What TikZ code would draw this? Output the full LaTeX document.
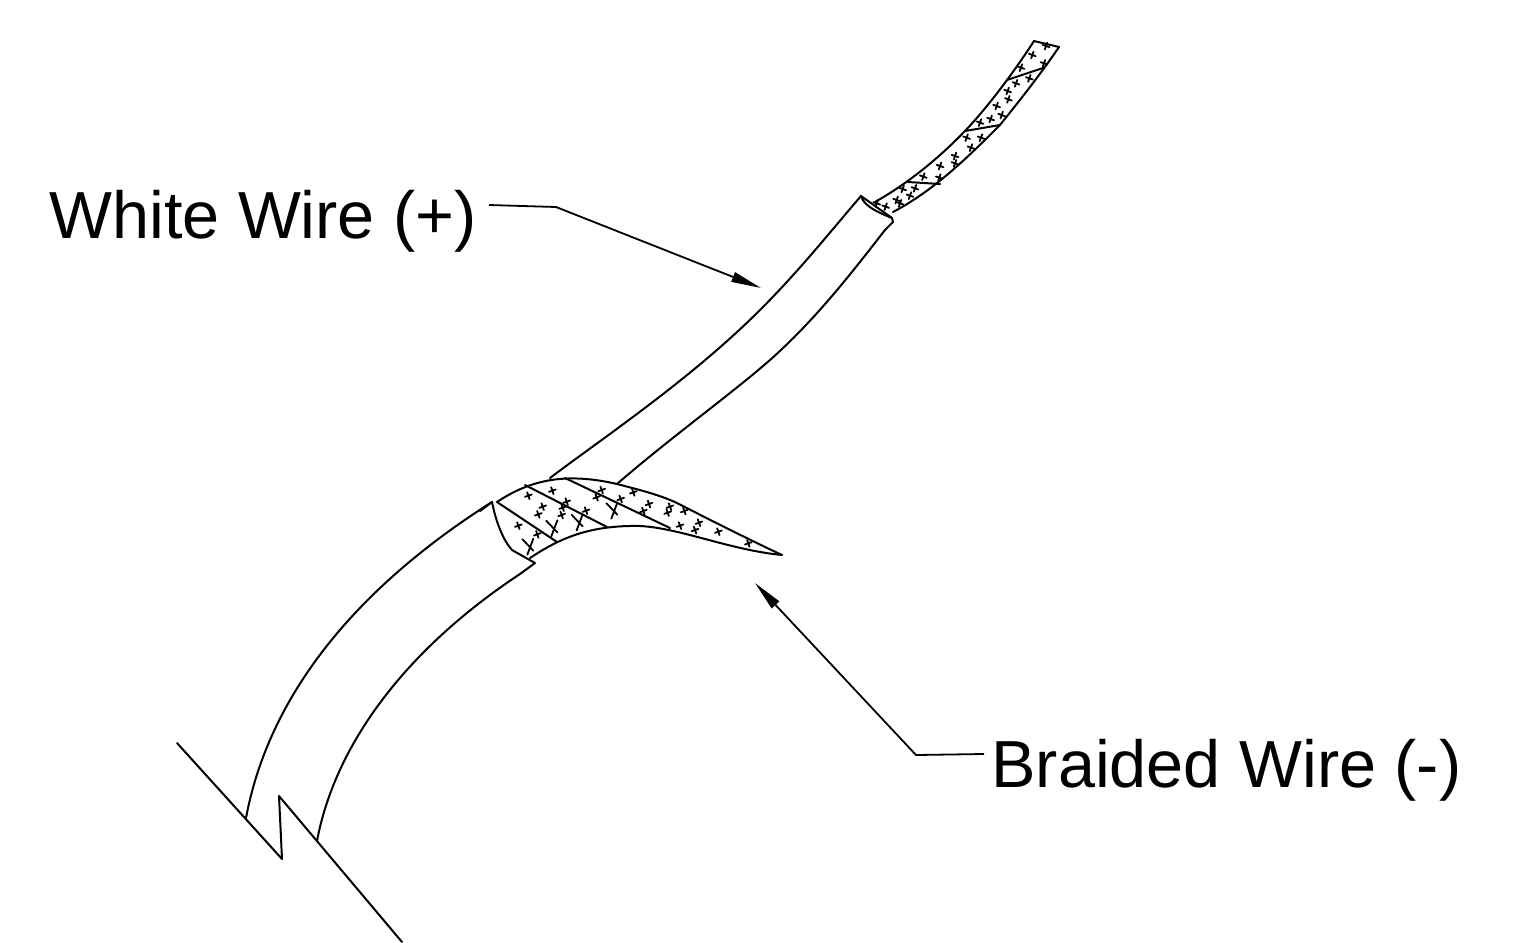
\documentclass[tikz,border=0pt]{standalone}
\usepackage{fontspec}
\setmainfont{Liberation Sans}
\usetikzlibrary{arrows.meta}
\tikzset{
  wireline/.style={line width=1pt,line join=round,line cap=round},
  hatch/.style={line width=0.9pt,line cap=round},
  leader/.style={line width=0.9pt},
  tip/.style={-{Triangle[length=15pt,width=5pt]}},
  lab/.style={font=\fontsize{33.3pt}{37pt}\selectfont,inner sep=0pt,anchor=base west}
}
\begin{document}
\begin{tikzpicture}[x=0.5pt,y=-0.5pt]
\useasboundingbox (0,0) rectangle (1533,943);
% zig-zag break line
\draw[wireline] (177,743) -- (282,859) -- (279,796) -- (402,942);
% outer sheath
\draw[wireline] (246,818) .. controls (268,700) and (350,592) .. (492,502);
\draw[wireline] (317,841) .. controls (335,745) and (405,650) .. (520,574);
\draw[wireline] (480,511) -- (492,502) .. controls (496,522) and (503,540) .. (512,550) -- (535,563) -- (520,574);
% braid
\draw[wireline] (497,502) .. controls (530,480) and (565,472) .. (617,484) .. controls (640,490) and (660,495) .. (677,503) .. controls (710,520) and (750,540) .. (782,555);
\draw[wireline] (530,558) .. controls (560,538) and (590,525) .. (640,526) .. controls (680,528) and (730,550) .. (782,555);
\draw[wireline] (497,502) -- (557,542);
\draw[wireline] (525,485) -- (607,527);
\draw[wireline] (565,478) -- (670,528);
% white wire
\draw[wireline] (550,478) .. controls (600,440) and (690,380) .. (760,310) .. controls (800,270) and (830,232) .. (861,196);
\draw[wireline] (617,484) .. controls (670,438) and (730,395) .. (770,360) .. controls (815,320) and (850,275) .. (885,230);
\draw[wireline] (861,196) -- (892,218) -- (893,222) -- (885,230);
\draw[wireline] (861,196) .. controls (864,206) and (877,212) .. (892,218);
% stripped conductor
\draw[wireline] (875,202) .. controls (905,185) and (935,162) .. (965,131) .. controls (985,110) and (1010,78) .. (1034,41);
\draw[wireline] (893,212) .. controls (935,190) and (970,155) .. (1000,125) .. controls (1020,100) and (1040,75) .. (1059,47);
\draw[wireline] (1034,41) -- (1059,47);
\draw[wireline] (1007,80) -- (1043,68);
\draw[wireline] (965,131) -- (1000,125);
\draw[wireline] (908,182) -- (940,184);
% small crosses on the conductor
\foreach \a/\b in {618/48,577/75,612/100,543/113,568/145,528/160,503/183,505/208,470/228,485/255,452/267,420/278,423/323,380/323,393/353,345/378,345/400,300/408,298/443,250/440,225/475,188/477,210/497,170/510,180/520,137/530,110/520}
  \draw[hatch] ({840+\a/3-3.4},{30+\b/3-1.2}) -- ({840+\a/3+3.4},{30+\b/3+1.2})
               ({840+\a/3+1.2},{30+\b/3-3.4}) -- ({840+\a/3-1.2},{30+\b/3+3.4});
% small crosses on the braid
\foreach \a/\b in {217/77,145/92,115/182,172/208,188/125,175/148,260/110,248/128,245/150,318/137,365/75,350/97,422/102,460/82,507/117,490/138,570/125,563/143,613/138,600/182,657/173,645/195,715/200,805/235}
  \draw[hatch] ({480+\a/3-3.4},{465+\b/3+1.2}) -- ({480+\a/3+3.4},{465+\b/3-1.2})
               ({480+\a/3-1.2},{465+\b/3-3.4}) -- ({480+\a/3+1.2},{465+\b/3+3.4});
% large crosses on the braid
\foreach \a/\b in {148/245,220/190,296/172,400/137}
  \draw[hatch] ({480+\a/3-7},{465+\b/3-7.5}) -- ({480+\a/3+4},{465+\b/3+4})
               ({480+\a/3+4},{465+\b/3-8}) -- ({480+\a/3-2},{465+\b/3+8});
% labels
\node[lab] (whitelabel) at (49,238) {White Wire (+)};
\node[lab] (braidlabel) at (991,787) {Braided Wire (-)};
\coordinate (whitestart) at (489,205);
\coordinate (whitebend) at (556,207);
\coordinate (whitetarget) at (761,288);
\coordinate (braidstart) at (984,754);
\coordinate (braidbend) at (916,755);
\coordinate (braidtarget) at (755,583);
\draw[leader,tip] (whitestart) -- (whitebend) -- (whitetarget);
\draw[leader,tip] (braidstart) -- (braidbend) -- (braidtarget);
\end{tikzpicture}
\end{document}
